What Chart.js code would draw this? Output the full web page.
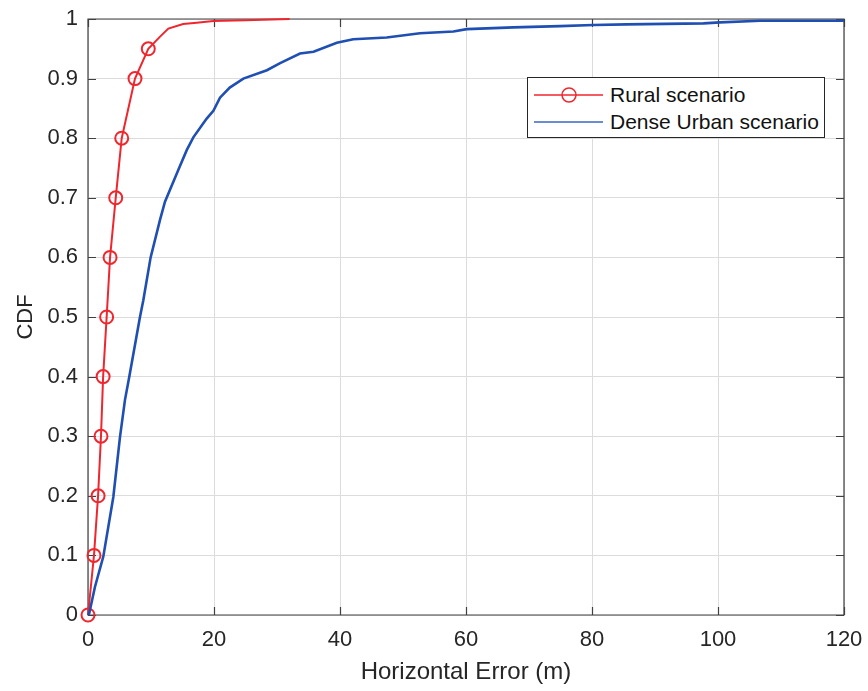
<!DOCTYPE html>
<html>
<head>
<meta charset="utf-8">
<script src="https://cdn.jsdelivr.net/npm/chart.js@4"></script>
<style>
  html, body { margin: 0; padding: 0; background: #fff; }
  #wrap { position: relative; width: 868px; height: 691px; }
  #c { display: block; }
  #legend {
    position: absolute; left: 527px; top: 77px; width: 298px; height: 61px;
    box-sizing: border-box; border: 1px solid #262626; background: #fff;
    font-family: "Liberation Sans", Arial, Helvetica, sans-serif; font-size: 21px; color: #111;
  }
  .row { position: absolute; left: 0; height: 24px; display: flex; align-items: center; }
  .row svg { display: block; }
  .row span { margin-left: 6px; white-space: nowrap; }
</style>
</head>
<body>
<div id="wrap">
  <canvas id="c" width="868" height="691"></canvas>
  <div id="legend">
    <div class="row" style="top:5px;">
      <svg width="76" height="24"><line x1="6" y1="12" x2="75" y2="12" stroke="#f0262e" stroke-width="1.3"/><circle cx="41" cy="12" r="7" fill="none" stroke="#f0262e" stroke-width="1.5"/></svg>
      <span>Rural scenario</span>
    </div>
    <div class="row" style="top:32px;">
      <svg width="76" height="24"><line x1="6" y1="12" x2="75" y2="12" stroke="#3a66c4" stroke-width="1.3"/></svg>
      <span>Dense Urban scenario</span>
    </div>
  </div>
</div>
<script>
// ---- data ----
const xTicks = [0, 20, 40, 60, 80, 100, 120];
const yTicks = ['0', '0.1', '0.2', '0.3', '0.4', '0.5', '0.6', '0.7', '0.8', '0.9', '1'];

const ruralX = [0, 0.95, 1.6, 2.06, 2.4, 2.96, 3.5, 4.4, 5.35, 7.46, 9.57, 11.4, 12.75, 15.1, 17.25, 19.9, 25, 32];
const ruralY = [0, 0.1, 0.2, 0.3, 0.4, 0.5, 0.6, 0.7, 0.8, 0.9, 0.95, 0.970, 0.984, 0.9916, 0.9938, 0.9966, 0.998, 1.0];

const ruralMarkerX = [0, 0.95, 1.6, 2.06, 2.4, 2.96, 3.5, 4.4, 5.35, 7.46, 9.57];
const ruralMarkerY = [0, 0.1, 0.2, 0.3, 0.4, 0.5, 0.6, 0.7, 0.8, 0.9, 0.95];

const urbanX = [0, 0.2, 1.1, 2.43, 4.02, 5.08, 5.87, 6.56, 8.25, 8.78, 9.94, 11.43, 12.22, 14.33, 15.67, 16.72, 18.84, 19.9, 20.95, 22.5, 24.66, 28.4, 30.5, 33.65, 35.8, 39.5, 42.1, 47.4, 52.7, 58, 60.1, 67.5, 74.9, 80.2, 85.5, 97.7, 100.3, 106.7, 120];
const urbanY = [0, 0.003, 0.047, 0.098, 0.198, 0.299, 0.361, 0.40, 0.50, 0.528, 0.60, 0.663, 0.6935, 0.7466, 0.780, 0.8015, 0.833, 0.846, 0.868, 0.885, 0.90, 0.914, 0.926, 0.942, 0.945, 0.960, 0.966, 0.969, 0.976, 0.979, 0.983, 0.986, 0.988, 0.990, 0.991, 0.9927, 0.9944, 0.997, 0.997];

const pts = (xs, ys) => xs.map((x, i) => ({ x: x, y: ys[i] }));

const FONT = '"Liberation Sans", Arial, Helvetica, sans-serif';
const AXIS_COLOR = '#404040';

const boxPlugin = {
  id: 'boxPlugin',
  beforeDatasetsDraw(chart) {
    const { ctx, chartArea: a, scales } = chart;
    ctx.save();
    ctx.strokeStyle = AXIS_COLOR;
    ctx.lineWidth = 1.2;
    ctx.beginPath();
    ctx.rect(a.left, a.top, a.right - a.left, a.bottom - a.top);
    ctx.stroke();
    const L = 8;
    ctx.beginPath();
    scales.x.ticks.forEach(t => {
      const px = Math.round(scales.x.getPixelForValue(t.value)) + 0.5;
      ctx.moveTo(px, a.bottom); ctx.lineTo(px, a.bottom - L);
      ctx.moveTo(px, a.top); ctx.lineTo(px, a.top + L);
    });
    scales.y.ticks.forEach(t => {
      const py = Math.round(scales.y.getPixelForValue(t.value)) + 0.5;
      ctx.moveTo(a.left, py); ctx.lineTo(a.left + L, py);
      ctx.moveTo(a.right, py); ctx.lineTo(a.right - L, py);
    });
    ctx.stroke();
    ctx.restore();
  }
};

new Chart(document.getElementById('c'), {
  type: 'scatter',
  data: {
    datasets: [
      {
        label: 'Dense Urban scenario',
        data: pts(urbanX, urbanY),
        showLine: true,
        borderColor: '#1f4fb2',
        borderWidth: 2.6,
        pointRadius: 0,
        tension: 0,
        clip: false
      },
      {
        label: 'Rural scenario',
        data: pts(ruralX, ruralY),
        showLine: true,
        borderColor: '#f0262e',
        borderWidth: 2,
        pointRadius: 0,
        tension: 0,
        clip: false
      },
      {
        label: 'Rural scenario markers',
        data: pts(ruralMarkerX, ruralMarkerY),
        showLine: false,
        borderColor: '#f0262e',
        backgroundColor: 'rgba(0,0,0,0)',
        borderWidth: 2,
        pointRadius: 6.5,
        pointStyle: 'circle',
        clip: false
      }
    ]
  },
  options: {
    responsive: false,
    animation: false,
    layout: { padding: { top: 19, right: 24, left: 0, bottom: 0 } },
    plugins: { legend: { display: false }, tooltip: { enabled: false } },
    scales: {
      x: {
        type: 'linear', min: 0, max: 120,
        afterBuildTicks: s => { s.ticks = xTicks.map(v => ({ value: v })); },
        afterFit: s => { s.height = 76; s.paddingLeft = 0; s.paddingRight = 0; },
        grid: { color: '#dcdcdc', lineWidth: 1, drawTicks: false },
        border: { display: false },
        ticks: { color: '#262626', font: { family: FONT, size: 22 }, padding: 12, maxRotation: 0,
                 callback: (v, i) => String(xTicks[i]) },
        title: { display: true, text: 'Horizontal Error (m)', color: '#262626',
                 font: { family: FONT, size: 24 }, padding: { top: 0, bottom: 4 } }
      },
      y: {
        type: 'linear', min: 0, max: 1,
        afterBuildTicks: s => { s.ticks = yTicks.map(v => ({ value: parseFloat(v) })); },
        afterFit: s => { s.width = 88; s.paddingTop = 0; s.paddingBottom = 0; },
        grid: { color: '#dcdcdc', lineWidth: 1, drawTicks: false },
        border: { display: false },
        ticks: { color: '#262626', font: { family: FONT, size: 22 }, padding: 10,
                 callback: (v, i) => yTicks[i] },
        title: { display: true, text: 'CDF', color: '#262626',
                 font: { family: FONT, size: 22 }, padding: { top: 13, bottom: 0 } }
      }
    }
  },
  plugins: [boxPlugin]
});
</script>
</body>
</html>
